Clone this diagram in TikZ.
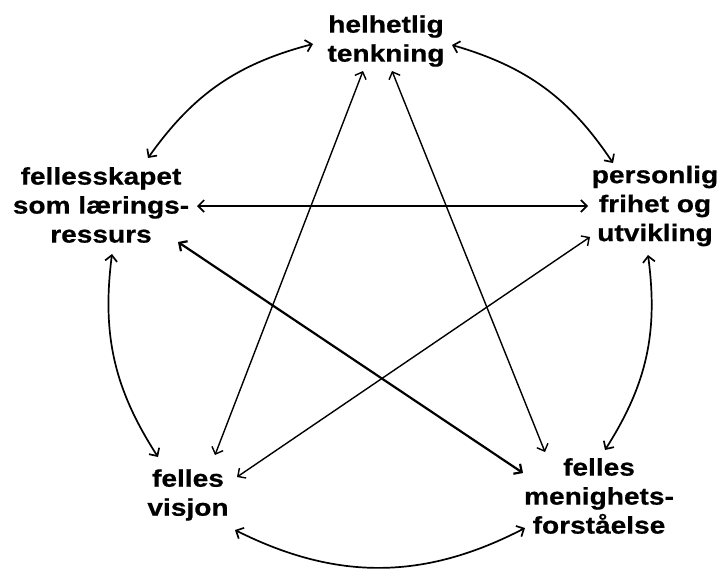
\documentclass[tikz,border=0pt]{standalone}
\usepackage{fontspec}
\setmainfont[FakeStretch=1.17, BoldFeatures={FakeBold=0.6}]{Liberation Sans}
\usetikzlibrary{arrows.meta}
\begin{document}
\begin{tikzpicture}[x=1pt,y=-1pt,
  lbl/.style={font=\fontsize{24}{29}\selectfont\bfseries, align=center, inner sep=0pt},
  link/.style={line width=1.7pt, {Straight Barb[length=6pt,width=12pt]}-{Straight Barb[length=6pt,width=12pt]}},
  thin link/.style={link, line width=1.4pt},
  thick link/.style={link, line width=2.2pt}]
\useasboundingbox (0,0) rectangle (723,570);
\node[lbl] (T) at (386,41) {helhetlig\\tenkning};
\node[lbl] (L) at (101,205) {fellesskapet\\som lærings-\\ressurs};
\node[lbl] (R) at (655,206) {personlig\\frihet og\\utvikling};
\node[lbl] (BL) at (188,495) {felles\\visjon};
\node[lbl] (BR) at (599,496) {felles\\menighets-\\forståelse};
% connector end points
\coordinate (tL) at (313,44);  \coordinate (lT) at (148,158);
\coordinate (tR) at (452,45);  \coordinate (rT) at (613,163);
\coordinate (rB) at (648,255); \coordinate (bR) at (605,450);
\coordinate (lB) at (112,254); \coordinate (bL) at (158,457);
\coordinate (brB) at (525,528); \coordinate (blB) at (235,530);
\coordinate (lR) at (197,206); \coordinate (rL) at (588,206);
\coordinate (tBL) at (363,71); \coordinate (blT) at (215,455);
\coordinate (tBR) at (392,71); \coordinate (brT) at (545,452);
\coordinate (lBR) at (178,242); \coordinate (brL) at (523,473);
\coordinate (rBL) at (590,237); \coordinate (blR) at (237,477);
% curved links
\draw[link] (tL) to[bend right=20] (lT);
\draw[link] (tR) to[bend left=20] (rT);
\draw[link] (rB) to[bend left=20] (bR);
\draw[link] (lB) to[bend right=20] (bL);
\draw[link] (brB) to[bend left=27] (blB);
% straight links
\draw[link] (lR) -- (rL);
\draw[thin link] (tBL) -- (blT);
\draw[thin link] (tBR) -- (brT);
\draw[thick link] (lBR) -- (brL);
\draw[thin link] (rBL) -- (blR);
\end{tikzpicture}
\end{document}
